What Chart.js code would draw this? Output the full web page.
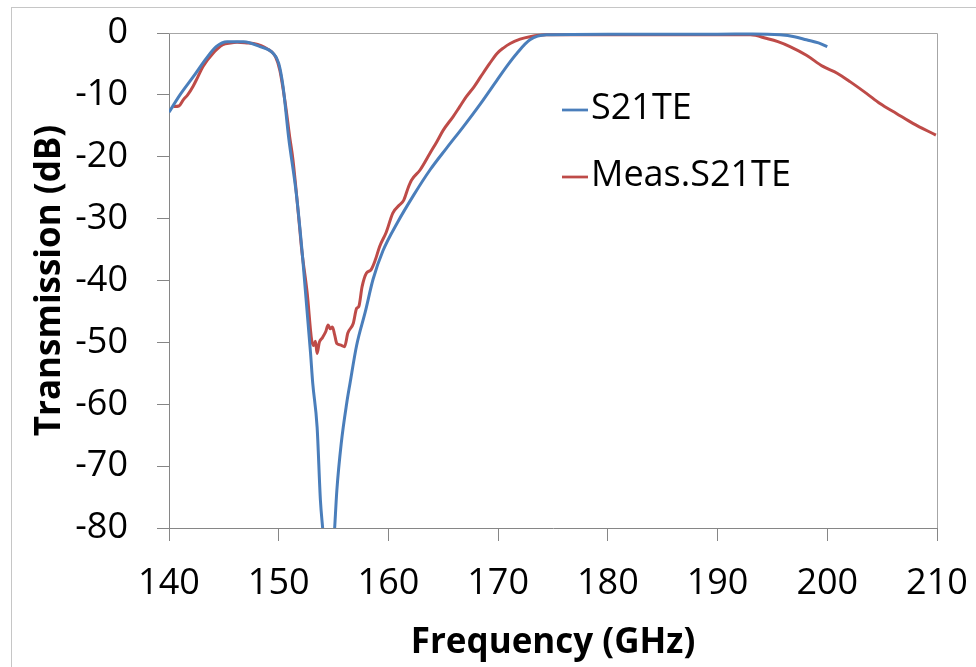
<!DOCTYPE html>
<html lang="fr">
<head>
<meta charset="utf-8">
<title>Transmission S21TE</title>
<script src="https://cdn.jsdelivr.net/npm/chart.js@4/dist/chart.umd.min.js"></script>
<style>
  html, body { margin: 0; padding: 0; background: #fff; }
  #cadre { width: 976px; height: 667px; }
</style>
</head>
<body>
<div id="cadre"><canvas id="graph"></canvas></div>
<script>
/*
 * Transmission simulee et mesuree (S21, mode TE) en fonction de la frequence.
 * Valeurs relevees a la main sur la figure d'origine.
 */

// ---------- Donnees ----------

// Simulation (S21TE)
const freqSim = [140.0, 141.0, 142.2, 143.4, 144.3, 145.3, 146.8, 148.3, 149.5, 150.0,
  150.4, 150.9, 151.6, 152.2, 152.9, 153.1, 153.5, 153.8, 154.0, 154.3, 154.7, 155.0,
  155.1, 155.3, 155.7, 156.2, 156.5, 157.1, 157.9, 158.6, 159.5, 160.8, 162.3, 163.8,
  165.3, 166.8, 168.4, 169.9, 170.9, 171.7, 172.9, 174.4, 180.0, 190.0, 193.2, 195.7,
  197.0, 198.1, 199.2, 200.0];
const s21Sim = [-12.8, -10.0, -7.1, -4.1, -2.2, -1.4, -1.4, -2.2, -3.3, -4.9,
  -8.7, -16.8, -25.9, -36.7, -51.7, -56.6, -63.7, -75.5, -79.9, -86.0, -88.0, -83.0,
  -80.0, -73.9, -66.3, -59.8, -56.6, -50.5, -45.0, -39.8, -35.2, -30.7, -26.2, -22.1,
  -18.6, -15.2, -11.4, -7.6, -5.1, -3.3, -1.1, -0.3, -0.2, -0.2, -0.15, -0.3,
  -0.6, -1.1, -1.6, -2.2];

// Mesure (Meas.S21TE)
const freqMes = [140.4, 140.9, 141.3, 141.7, 142.2, 142.6, 143.1, 144.0, 144.9, 145.6,
  146.2, 147.1, 147.7, 148.9, 149.7, 150.1, 150.6, 151.0, 151.3, 151.9, 152.1, 152.6,
  153.0, 153.2, 153.35, 153.5, 153.7, 154.0, 154.3, 154.5, 154.7, 154.9, 155.1, 155.3,
  155.6, 156.0, 156.3, 156.8, 157.1, 157.3, 157.6, 158.0, 158.4, 158.8, 159.2, 159.8,
  160.4, 161.0, 161.4, 161.8, 162.1, 162.9, 163.8, 164.4, 165.0, 165.9, 166.5, 167.1,
  167.8, 168.4, 169.2, 169.9, 170.5, 171.1, 172.0, 172.9, 174.4, 180.0, 188.0, 193.0,
  194.5, 195.5, 196.6, 198.1, 199.6, 200.9, 202.1, 203.6, 204.8, 206.3, 207.8, 209.9];
const s21Mes = [-11.9, -11.8, -10.8, -10.0, -8.6, -7.2, -5.4, -3.3, -1.9, -1.6,
  -1.5, -1.6, -1.7, -2.5, -3.8, -6.0, -11.4, -16.8, -20.5, -31.3, -35.1, -42.1,
  -49.6, -50.5, -49.8, -51.8, -50.0, -49.2, -48.2, -47.2, -47.8, -47.5, -48.8, -50.2,
  -50.4, -50.7, -48.5, -46.9, -44.5, -44.2, -41.0, -38.8, -38.3, -36.7, -34.5, -32.2,
  -29.1, -27.8, -27.0, -25.0, -23.8, -22.1, -19.4, -17.6, -15.7, -13.5, -11.9, -10.3,
  -8.7, -7.1, -5.0, -3.3, -2.4, -1.7, -1.0, -0.6, -0.3, -0.3, -0.3, -0.3,
  -0.9, -1.4, -2.2, -3.6, -5.4, -6.5, -7.9, -9.8, -11.4, -13.0, -14.6, -16.5];

// Graduations des axes
const ticksFreq = [140, 150, 160, 170, 180, 190, 200, 210];
const ticksDb = [0, -10, -20, -30, -40, -50, -60, -70, -80];

const libelles = ["S21TE", "Meas.S21TE"];
const couleurs = ["#4a7ebb", "#be4b48"];

// ---------- Utilitaires ----------

function enPoints(xs, ys) {
  return xs.map((x, i) => ({ x: x, y: ys[i] }));
}

const gris = "#868686";
const police = "'Open Sans', 'DejaVu Sans', sans-serif";

// Cadre exterieur, bord du trace et legende dessines a la main
const decor = {
  id: "decor",
  beforeDraw(chart) {
    const ctx = chart.ctx;
    ctx.save();
    ctx.strokeStyle = "#c6c6c6";
    ctx.lineWidth = 1;
    ctx.strokeRect(11.5, 7.5, 1200, 900);
    ctx.restore();
  },
  beforeDatasetsDraw(chart) {
    const a = chart.chartArea;
    const ctx = chart.ctx;
    ctx.save();
    ctx.strokeStyle = "#a6a6a6";
    ctx.lineWidth = 1;
    ctx.beginPath();
    ctx.moveTo(a.left, Math.round(a.top) + 0.5);
    ctx.lineTo(Math.round(a.right) + 0.5, Math.round(a.top) + 0.5);
    ctx.lineTo(Math.round(a.right) + 0.5, a.bottom);
    ctx.stroke();
    ctx.restore();
  },
  afterDraw(chart) {
    const ctx = chart.ctx;
    const lignesY = [110, 177];
    ctx.save();
    ctx.font = "36px " + police;
    ctx.textBaseline = "middle";
    ctx.fillStyle = "#000";
    chart.data.datasets.forEach((ds, i) => {
      const y = lignesY[i];
      ctx.strokeStyle = ds.borderColor;
      ctx.lineWidth = 2.75;
      ctx.beginPath();
      ctx.moveTo(562, y);
      ctx.lineTo(588, y);
      ctx.stroke();
      ctx.fillText(ds.label, 591, y - 1);
    });
    ctx.restore();
  },
};

// ---------- Graphique ----------

new Chart(document.getElementById("graph"), {
  type: "line",
  data: {
    datasets: [
      {
        label: libelles[0],
        data: enPoints(freqSim, s21Sim),
        borderColor: couleurs[0],
        borderWidth: 3,
        pointRadius: 0,
        cubicInterpolationMode: "monotone",
        clip: { left: 0, right: 0, top: 4, bottom: 0 },
      },
      {
        label: libelles[1],
        data: enPoints(freqMes, s21Mes),
        borderColor: couleurs[1],
        borderWidth: 3,
        pointRadius: 0,
        cubicInterpolationMode: "monotone",
        clip: { left: 0, right: 0, top: 4, bottom: 0 },
      },
    ],
  },
  options: {
    responsive: true,
    maintainAspectRatio: false,
    animation: false,
    layout: { padding: { left: 0, top: 33, right: 39, bottom: 0 } },
    plugins: { legend: { display: false }, tooltip: { enabled: false } },
    scales: {
      x: {
        type: "linear",
        min: 140,
        max: 210,
        afterBuildTicks: s => { s.ticks = ticksFreq.map(v => ({ value: v })); },
        afterFit: s => { s.height = 139; s.paddingLeft = 0; s.paddingRight = 0; },
        border: { display: true, color: gris, width: 1 },
        grid: { drawOnChartArea: false, drawTicks: true, tickLength: 13, color: gris },
        ticks: { color: "#000", font: { family: police, size: 36 }, padding: 21, maxRotation: 0 },
        title: {
          display: true,
          text: "Frequency (GHz)",
          color: "#000",
          font: { family: police, size: 35, weight: "bold" },
          padding: { top: 0, bottom: 3 },
        },
      },
      y: {
        type: "linear",
        min: -80,
        max: 0,
        afterBuildTicks: s => { s.ticks = ticksDb.map(v => ({ value: v })); },
        afterFit: s => { s.width = 169; s.paddingTop = 0; s.paddingBottom = 0; },
        border: { display: true, color: gris, width: 1 },
        grid: { drawOnChartArea: false, drawTicks: true, tickLength: 12, color: gris },
        ticks: { color: "#000", font: { family: police, size: 36 }, padding: 29 },
        title: {
          display: true,
          text: "Transmission (dB)",
          color: "#000",
          font: { family: police, size: 35, weight: "bold" },
          padding: { top: 29, bottom: 0 },
        },
      },
    },
  },
  plugins: [decor],
});
</script>
</body>
</html>
